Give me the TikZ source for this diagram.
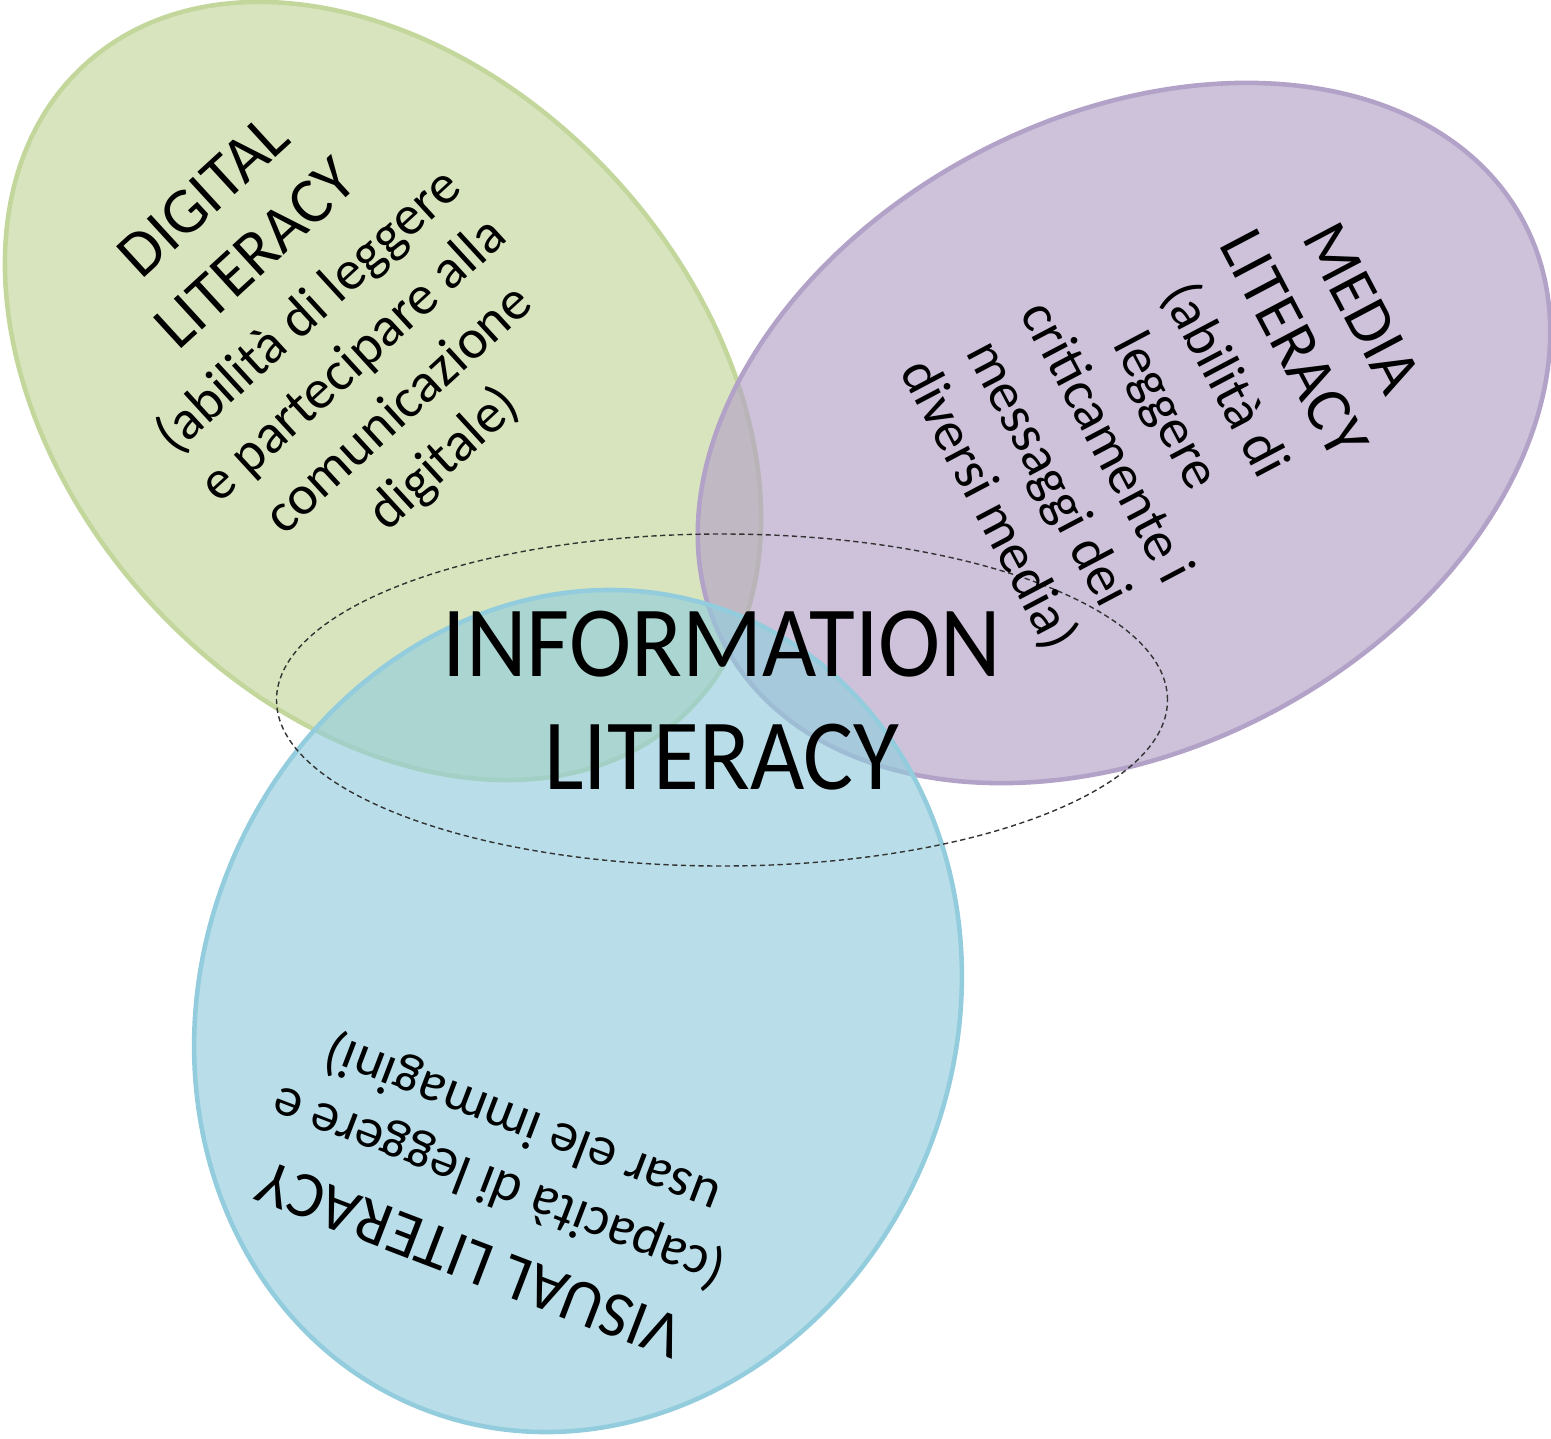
\documentclass[tikz,border=0pt]{standalone}
\usepackage{fontspec}
\setmainfont{Carlito}
\usepackage{tikz}
\usetikzlibrary{shapes.geometric, positioning}
\definecolor{LeafGreen}{HTML}{C3D69B}
\definecolor{SoftLilac}{HTML}{B3A2C7}
\definecolor{SkyBlue}{HTML}{93CDDD}
\newcommand{\littitle}[1]{{\fontsize{18.5}{22}\selectfont #1}}

\begin{document}
\begin{tikzpicture}[
    bubble/.style={ellipse, inner sep=0pt, line width=1.3pt, fill opacity=0.65},
    bubbletext/.style={align=center, inner sep=0pt, font=\fontsize{15.9}{19}\selectfont}
]
    \useasboundingbox (0,0) rectangle (15.51,-14.38);
    % Literacy bubbles
    \node[bubble, draw=LeafGreen, fill=LeafGreen, rotate=42.5,
          minimum width=6.29cm, minimum height=8.84cm] (digital) at (3.83,-3.91) {};
    \node[bubble, draw=SoftLilac, fill=SoftLilac, rotate=-62.2,
          minimum width=6.32cm, minimum height=9.04cm] (media) at (11.24,-4.33) {};
    \node[bubble, draw=SkyBlue, fill=SkyBlue, rotate=159,
          minimum width=7.54cm, minimum height=8.54cm] (visual) at (5.78,-10.11) {};
    % Information ring
    \node[ellipse, draw=black!80, line width=0.4pt, dash pattern=on 1.5pt off 1pt,
          minimum width=8.91cm, minimum height=3.32cm] (ring) at (7.22,-7.00) {};
    % Labels
    \node[bubbletext, rotate=42.5] (digitallbl) at (3.25,-3.29) {
        \littitle{DIGITAL}\\[3pt] \littitle{LITERACY}\\[2pt]
        (abilità di leggere\\ e partecipare alla\\ comunicazione\\ digitale)};
    \node[bubbletext, rotate=-62.2] (medialbl) at (11.74,-4.07) {
        \littitle{MEDIA}\\[3pt] \littitle{LITERACY}\\[2pt]
        (abilità di\\ leggere\\ criticamente i\\ messaggi dei\\ diversi media)};
    \node[bubbletext, rotate=159] (visuallbl) at (4.97,-11.90) {
        \littitle{VISUAL LITERACY}\\[2pt]
        (capacità di leggere e\\ usar ele immagini)};
    \node[align=center, inner sep=0pt, xscale=0.93, transform shape,
          font=\fontsize{28.7}{32.2}\selectfont] (info) at (7.22,-7.01) {
        INFORMATION\\ LITERACY};
\end{tikzpicture}
\end{document}
